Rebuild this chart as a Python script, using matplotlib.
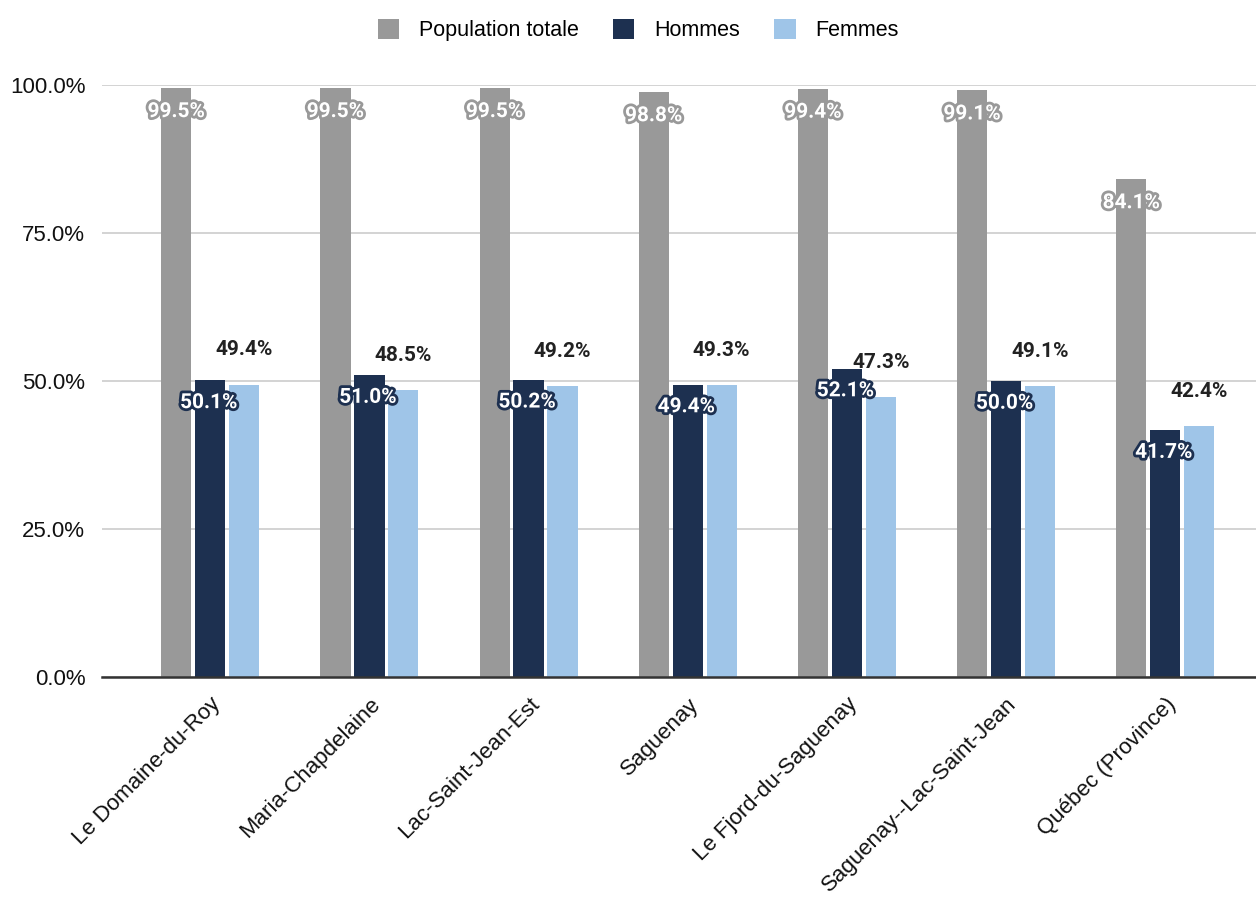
import numpy as np
import matplotlib
matplotlib.use("Agg")
import matplotlib.pyplot as plt
import matplotlib.patheffects as pe
from matplotlib.ticker import FuncFormatter

regions = ["Le Domaine-du-Roy", "Maria-Chapdelaine", "Lac-Saint-Jean-Est", "Saguenay",
           "Le Fjord-du-Saguenay", "Saguenay--Lac-Saint-Jean", "Québec (Province)"]
total = [99.5, 99.5, 99.5, 98.8, 99.4, 99.1, 84.1]
hommes = [50.1, 51.0, 50.2, 49.4, 52.1, 50.0, 41.7]
femmes = [49.4, 48.5, 49.2, 49.3, 47.3, 49.1, 42.4]

c_total = "#999999"
c_h = "#1d3050"
c_f = "#9fc5e8"

plt.rcParams['font.family'] = ['Liberation Sans', 'DejaVu Sans']

fig = plt.figure(figsize=(12.56, 8.97), dpi=100)
ax = fig.add_axes([0.0812, 0.2453, 0.9188, 0.6599])

x = np.arange(len(regions))
w = 0.19
off = 0.213
ax.bar(x - off, total, w, color=c_total, label="Population totale", zorder=3)
ax.bar(x, hommes, w, color=c_h, label="Hommes", zorder=3)
ax.bar(x + off, femmes, w, color=c_f, label="Femmes", zorder=3)

lab_font = dict(family=['Roboto', 'DejaVu Sans'], fontweight='bold', fontsize=15)
for i in range(len(regions)):
    ax.annotate(f"{total[i]:.1f}%", (x[i] - off, total[i]), xytext=(0, -17),
                textcoords='offset points', ha='center', va='center', color='white',
                path_effects=[pe.withStroke(linewidth=4, foreground=c_total)],
                zorder=5, annotation_clip=False, **lab_font)
    ax.annotate(f"{hommes[i]:.1f}%", (x[i], hommes[i]), xytext=(-1, -16),
                textcoords='offset points', ha='center', va='center', color='white',
                path_effects=[pe.withStroke(linewidth=4, foreground=c_h)],
                zorder=5, **lab_font)
    ax.annotate(f"{femmes[i]:.1f}%", (x[i] + off, femmes[i]), xytext=(0, 25),
                textcoords='offset points', ha='center', va='center', color='#222222',
                zorder=5, **lab_font)

ax.set_ylim(0, 100)
ax.set_xlim(-0.68, 6.57)
ax.set_yticks([0, 25, 50, 75, 100])
ax.yaxis.set_major_formatter(FuncFormatter(lambda v, p: f"{v:.1f}%"))
ax.grid(axis='y', color='#cccccc', linewidth=1.2, zorder=0)
ax.tick_params(axis='y', length=0, labelsize=16, pad=12, labelcolor='#111111')
ax.tick_params(axis='x', length=0, labelsize=16, pad=12, labelcolor='#111111')
ax.set_xticks(x)
ax.set_xticklabels(regions, rotation=45, ha='right', rotation_mode='anchor')
for s in ['top', 'right', 'left']:
    ax.spines[s].set_visible(False)
ax.spines['bottom'].set_color('#333333')
ax.spines['bottom'].set_linewidth(1.8)
ax.spines['bottom'].set_zorder(4)

fig.legend(loc='upper center', bbox_to_anchor=(0.508, 1.0), ncol=3, frameon=False,
           fontsize=15.5, handlelength=1.0, handleheight=1.0, columnspacing=1.6,
           handletextpad=0.9)

fig.savefig("out.png", dpi=100)
